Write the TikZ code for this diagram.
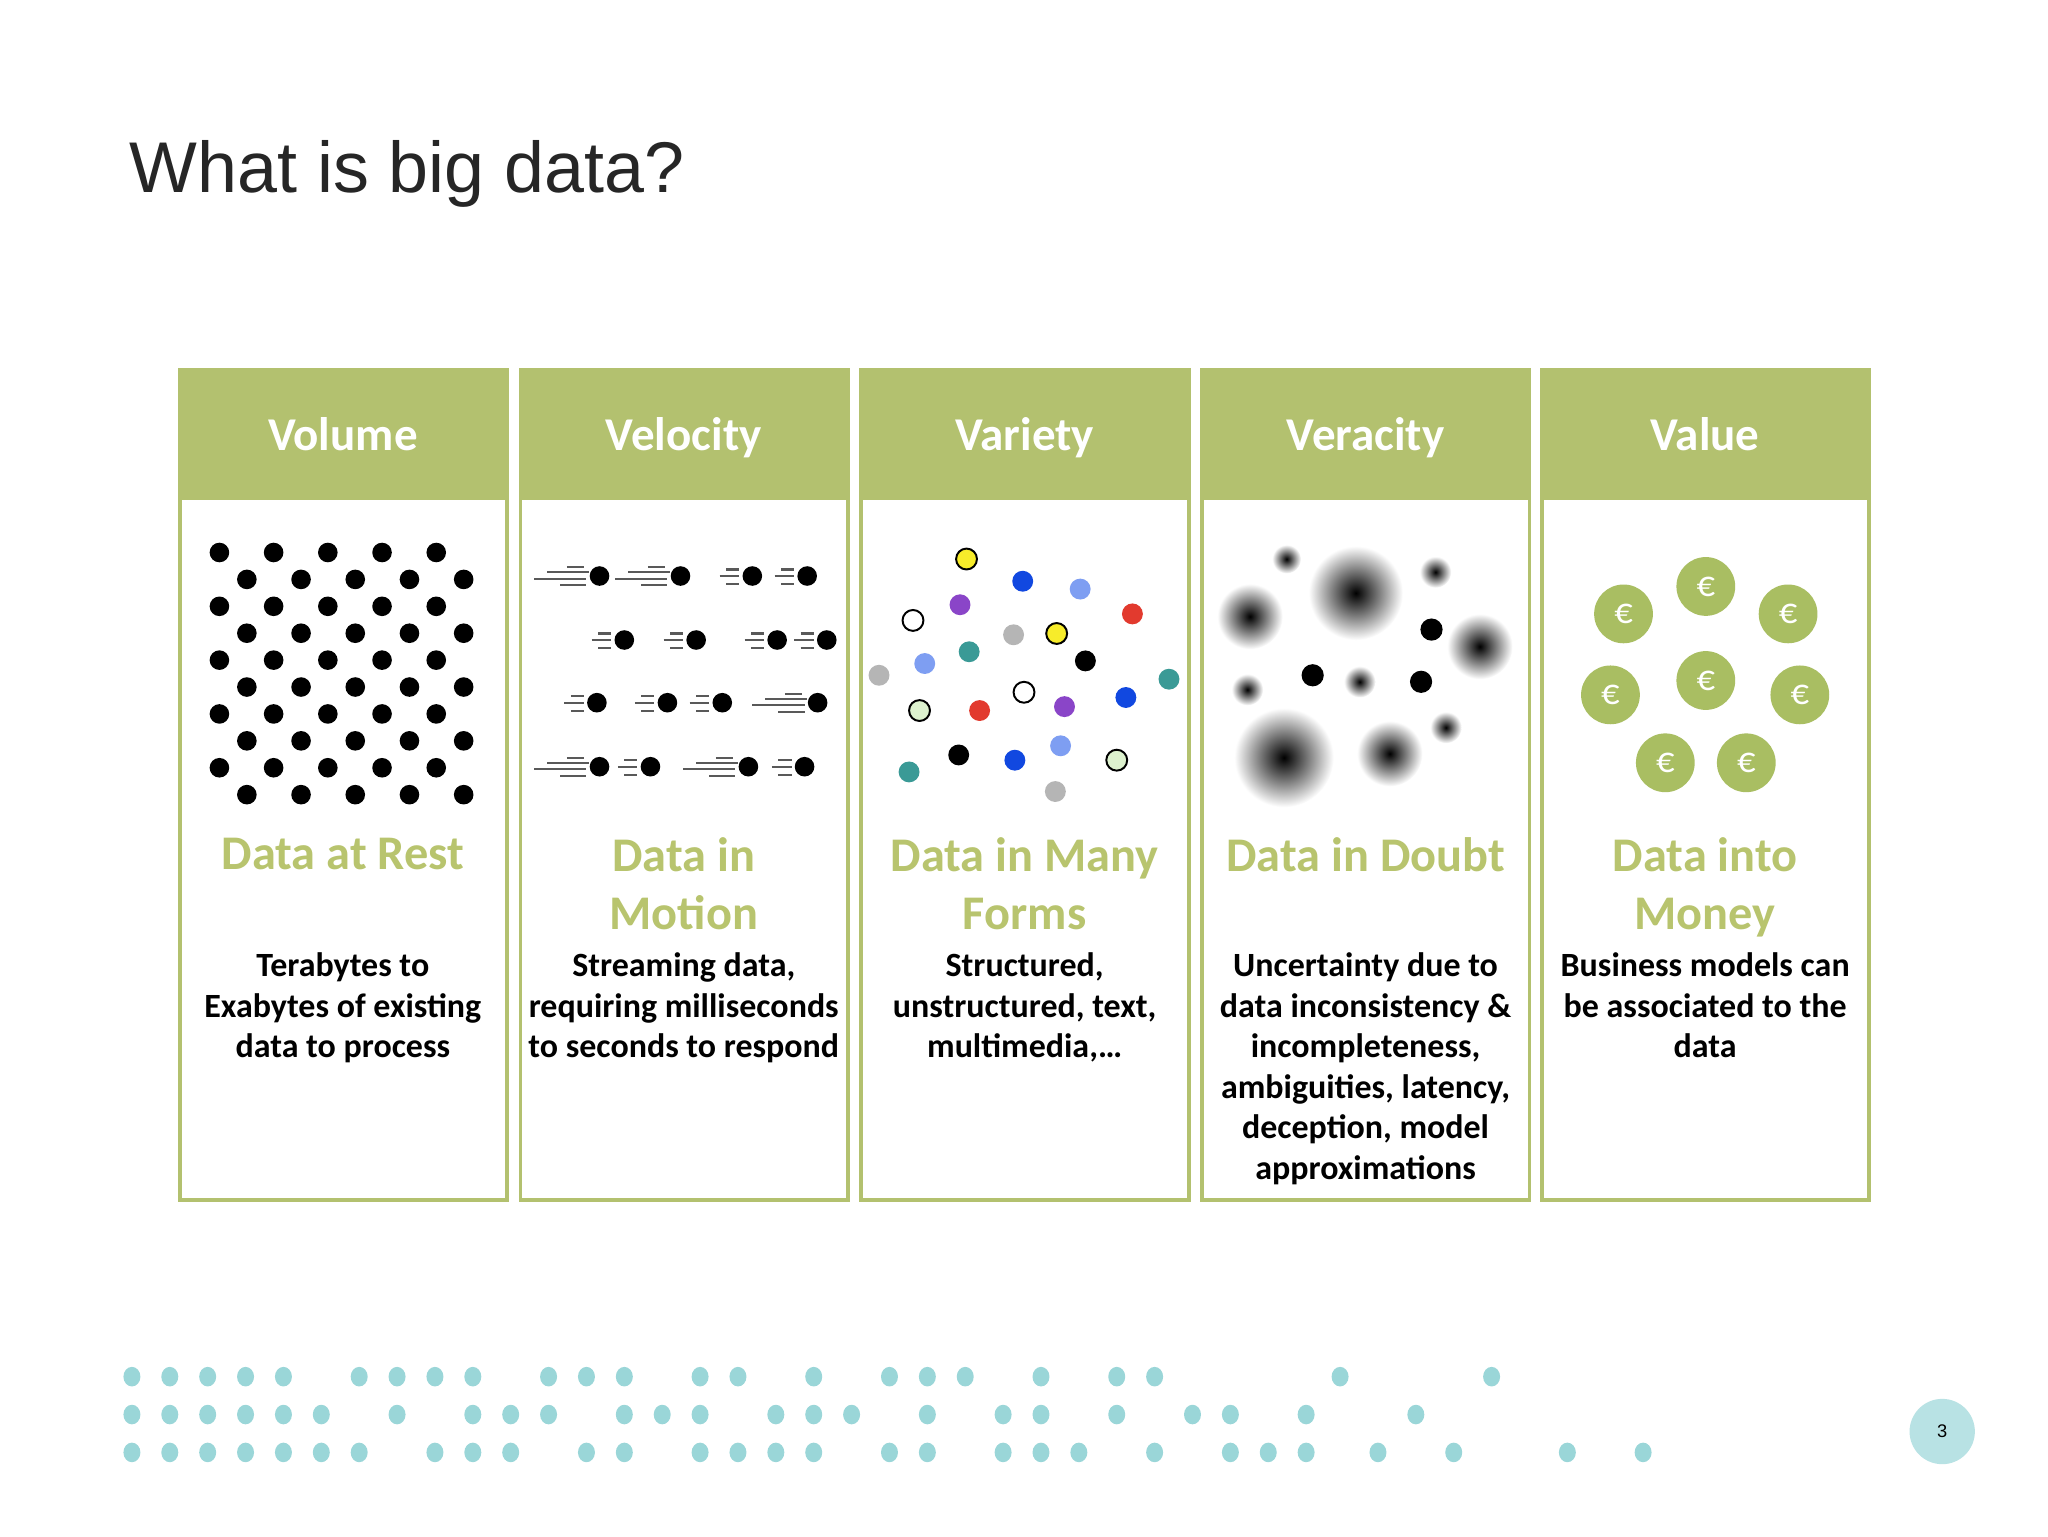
\documentclass[tikz,border=0pt]{standalone}
\usepackage{fontspec}
\setmainfont{Carlito}
\newfontfamily\arialf{Liberation Sans}
\definecolor{olive}{HTML}{B3C16F}
\definecolor{oliveT}{HTML}{B8C46E}
\definecolor{coin}{HTML}{A9BE62}
\definecolor{teald}{HTML}{9AD6D8}
\definecolor{vteal}{HTML}{3A9A96}
\definecolor{vblue}{HTML}{1148E0}
\definecolor{vlblue}{HTML}{7E9EF2}
\definecolor{vpurple}{HTML}{8A45C8}
\definecolor{vred}{HTML}{E23A2E}
\definecolor{vgray}{HTML}{B5B5B5}
\definecolor{vyellow}{HTML}{F7EC2A}
\definecolor{vgreen}{HTML}{DDF2CE}
\tikzset{
  panelbox/.style={draw=olive,line width=3pt,fill=white},
  headbox/.style={fill=olive},
  headtxt/.style={text=white,anchor=base,font=\bfseries\fontsize{36}{40}\selectfont},
  subtxt/.style={text=oliveT,font=\bfseries\fontsize{37}{44}\selectfont,align=center,anchor=north},
  bodytxt/.style={font=\bfseries\fontsize{26}{31}\selectfont,align=center,anchor=north},
  pdot/.style={fill=teald,draw=none},
}
\newcommand{\longstreak}[2]{%
  \draw[line width=1.6pt,gray!70!black] (#1-50,#2+2)--(#1-10,#2+2) (#1-40,#2-3)--(#1-8,#2-3) (#1-30,#2+7)--(#1-10,#2+7) (#1-25,#2-7)--(#1-12,#2-7);}
\newcommand{\shortstreak}[2]{%
  \draw[line width=1.6pt,gray!70!black] (#1-25,#2)--(#1-10,#2) (#1-20,#2-5)--(#1-10,#2-5) (#1-20,#2+6)--(#1-10,#2+6);}
\newcommand{\ball}[2]{\fill (#1,#2) circle (7.5);}
\begin{document}
\begin{tikzpicture}[x=1pt,y=-1pt]
\useasboundingbox (0,0) rectangle (1568,1176);
\fill[white] (0,0) rectangle (1568,1176);
\node[anchor=base west,inner sep=0,font=\arialf\fontsize{55}{60}\selectfont,text=black!85] (title) at (99,147) {What is big data?};
% panels
\foreach \x/\h/\n in {136/Volume/p1,397/Velocity/p2,658/Variety/p3,919/Veracity/p4,1179/Value/p5}{
  \draw[panelbox] (\x+1.5,283.5) rectangle (\x+252,918.5);
  \fill[headbox] (\x,282) rectangle (\x+253.5,383);
  \node[headtxt] (\n) at (\x+126.5,345) {\h};
}
% subtitles
\node[subtxt] (s1) at (262.5,638) {Data at Rest};
\node[subtxt] (s2) at (523.5,638) {Data in\\Motion};
\node[subtxt] (s3) at (784.5,638) {Data in Many\\Forms};
\node[subtxt] (s4) at (1045.5,638) {Data in Doubt};
\node[subtxt] (s5) at (1305.5,638) {Data into\\Money};
% bodies
\node[bodytxt] (b1) at (262.5,726) {Terabytes to\\Exabytes of existing\\data to process};
\node[bodytxt] (b2) at (523.5,726) {Streaming data,\\requiring milliseconds\\to seconds to respond};
\node[bodytxt] (b3) at (784.5,726) {Structured,\\unstructured, text,\\multimedia,\dots};
\node[bodytxt] (b4) at (1045.5,726) {Uncertainty due to\\data inconsistency \&\\incompleteness,\\ambiguities, latency,\\deception, model\\approximations};
\node[bodytxt] (b5) at (1305.5,726) {Business models can\\be associated to the\\data};
% volume dots
\foreach \r in {0,...,9}{
  \pgfmathsetmacro{\yy}{423+20.6*\r}
  \pgfmathsetmacro{\xo}{mod(\r,2)==0 ? 168 : 189}
  \foreach \k in {0,...,4}{ \fill (\xo+41.5*\k,\yy) circle (7.5); }
}
% velocity
\longstreak{459}{441}\ball{459}{441}
\longstreak{521}{441}\ball{521}{441}
\shortstreak{576}{441}\ball{576}{441}
\shortstreak{618}{441}\ball{618}{441}
\shortstreak{478}{490}\ball{478}{490}
\shortstreak{533}{490}\ball{533}{490}
\shortstreak{595}{490}\ball{595}{490}
\shortstreak{633}{490}\ball{633}{490}
\shortstreak{457}{538}\ball{457}{538}
\shortstreak{511}{538}\ball{511}{538}
\shortstreak{553}{538}\ball{553}{538}
\longstreak{626}{538}\ball{626}{538}
\longstreak{459}{587}\ball{459}{587}
\shortstreak{498}{587}\ball{498}{587}
\longstreak{573}{587}\ball{573}{587}
\shortstreak{616}{587}\ball{616}{587}
% variety
\foreach \x/\y/\c in {783/445/vblue,827/451/vlblue,735/463/vpurple,867/470/vred,776/486/vgray,742/499/vteal,708/508/vlblue,831/506/black,673/517/vgray,895/520/vteal,750/544/vred,815/541/vpurple,862/534/vblue,696/591/vteal,734/578/black,777/582/vblue,812/571/vlblue,808/606/vgray}{
  \fill[\c] (\x,\y) circle (8);
}
\foreach \x/\y/\c in {740/428/vyellow,699/475/white,809/485/vyellow,784/530/white,704/544/vgreen,855/582/vgreen}{
  \draw[fill=\c,line width=1.5pt] (\x,\y) circle (8);
}
% veracity
\foreach \x/\y/\r in {985/428/11,1038/454/36,1099/438/12,957/472/25,1133/495/25,1041/522/12,955/528/12,1107/557/12,983/580/38,1064/577/25}{
  \shade[inner color=black,outer color=white] (\x,\y) circle (\r);
}
\foreach \x/\y in {1096/482,1005/517,1088/522}{ \fill (\x,\y) circle (8.5); }
% value
\foreach \x/\y in {1306/449,1243/470,1369/470,1306/521,1233/532,1378/532,1275/584,1337/584}{
  \fill[coin] (\x,\y) circle (22.5);
  \node[text=white,font=\fontsize{28}{30}\selectfont] at (\x,\y) {€};
}
% bottom dots
\foreach \x in {101,130,159,188,217,275,304,333,362,420,449,478,536,565,623,681,710,739,797,855,884,1026,1142}{\fill[pdot] (\x,1054) ellipse (6.5 and 7.5);}
\foreach \x in {101,130,159,188,217,246,304,362,391,420,478,507,536,594,623,652,710,768,797,855,913,942,1000,1084}{\fill[pdot] (\x,1083) ellipse (6.5 and 7.5);}
\foreach \x in {101,130,159,188,217,246,275,333,362,391,449,478,536,565,594,623,681,710,768,797,826,884,942,971,1000,1055,1113,1200,1258}{\fill[pdot] (\x,1112) ellipse (6.5 and 7.5);}
% page number
\fill[teald!70] (1487,1096) circle (25);
\node[font=\arialf\fontsize{14}{16}\selectfont] (pg) at (1487,1096) {3};
\end{tikzpicture}
\end{document}
